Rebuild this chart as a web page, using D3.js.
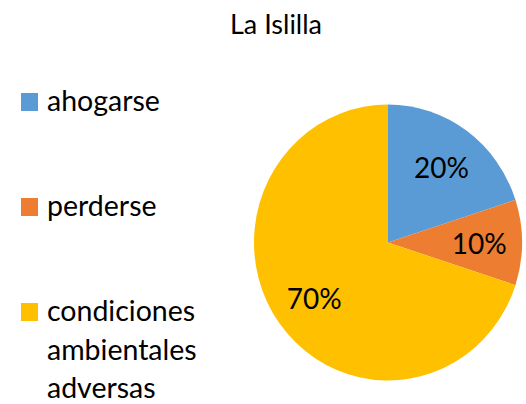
<!DOCTYPE html>
<html>
<head>
<meta charset="utf-8">
<script src="https://cdn.jsdelivr.net/npm/d3@7"></script>
<style>
    body { margin: 0; background: #fff; }
    text { font-family: Lato, "Open Sans", sans-serif; fill: #000; }
</style>
</head>
<body>
<div id="pie-chart"></div>
<script>
// data
const title = 'La Islilla';
const categories = ['ahogarse', 'perderse', 'condiciones ambientales adversas'];
const legendLines = [['ahogarse'], ['perderse'], ['condiciones', 'ambientales', 'adversas']];
const values = [20, 10, 70];
const colors = ['#5B9BD5', '#ED7D31', '#FFC000'];

const width = 526;
const height = 404;
const cx = 388;
const cy = 242.5;
const radius = 138;
const titleSize = 27;
const legendSize = 28.5;
const labelSize = 28;

const svg = d3.select('#pie-chart')
    .append('svg')
    .attr('width', width)
    .attr('height', height);

// title
svg.append('text')
    .attr('x', 276)
    .attr('y', 34)
    .style('font-size', titleSize + 'px')
    .style('text-anchor', 'middle')
    .text(title);

const total = d3.sum(values);
const pie = d3.pie().sort(null).value(d => d);
const arcs = pie(values);

const arc = d3.arc().innerRadius(0).outerRadius(radius);
const labelArc = d3.arc().innerRadius(0).outerRadius(radius * 1.36);

// slices (slightly squashed horizontally like the original)
svg.append('g')
    .attr('transform', `translate(${cx}, ${cy}) scale(0.971, 1)`)
    .selectAll('path')
    .data(arcs)
    .join('path')
    .attr('d', arc)
    .attr('fill', (d, i) => colors[i]);

// labels
svg.append('g')
    .attr('transform', `translate(${cx}, ${cy})`)
    .selectAll('text')
    .data(arcs)
    .join('text')
    .attr('x', d => labelArc.centroid(d)[0] * 0.971)
    .attr('y', d => labelArc.centroid(d)[1])
    .attr('dominant-baseline', 'central')
    .style('text-anchor', 'middle')
    .style('font-size', labelSize + 'px')
    .text(d => Math.round(d.data / total * 100) + '%');

// legend
const legendY = [111, 216, 321];
const lineHeight = 38.5;
const legend = svg.append('g').attr('class', 'legend');

categories.forEach((c, i) => {
    const g = legend.append('g')
        .attr('transform', `translate(0, ${legendY[i]})`);

    g.append('rect')
        .attr('x', 21)
        .attr('y', -18)
        .attr('width', 17)
        .attr('height', 18)
        .attr('fill', colors[i]);

    const t = g.append('text')
        .attr('x', 47)
        .attr('y', 0)
        .style('font-size', legendSize + 'px');

    legendLines[i].forEach((line, j) => {
        t.append('tspan')
            .attr('x', 47)
            .attr('y', j * lineHeight)
            .text(line);
    });
});
</script>
</body>
</html>
